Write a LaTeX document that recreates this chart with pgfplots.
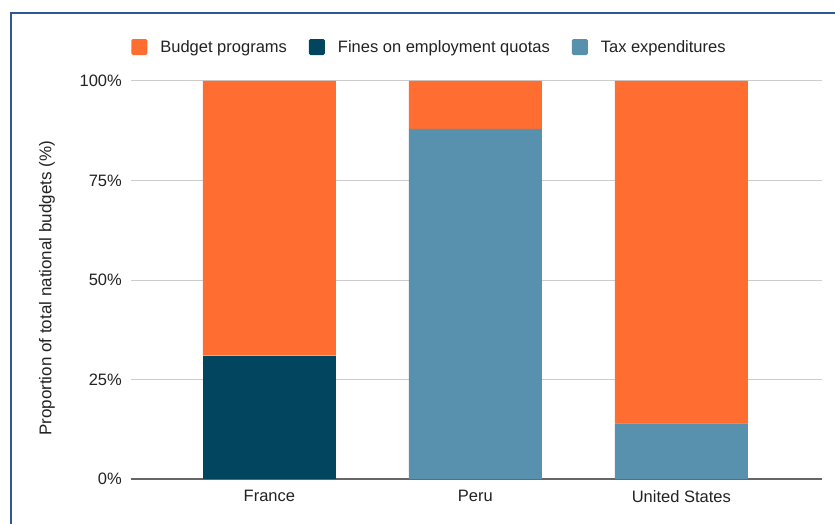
\documentclass[border=0pt]{standalone}
\usepackage{pgfplots}
\pgfplotsset{compat=1.18}
\usepackage{fontspec}
\setmainfont{Liberation Sans}
\definecolor{cOrange}{RGB}{255,109,49}
\definecolor{cDark}{RGB}{2,69,95}
\definecolor{cBlue}{RGB}{88,145,173}
\definecolor{cFrame}{RGB}{46,88,145}
\definecolor{cGrid}{RGB}{204,204,204}
\definecolor{cAxis}{RGB}{102,102,102}
\definecolor{cText}{RGB}{34,34,34}
\newcommand{\chf}{\fontsize{16.5}{19}\selectfont}
\begin{document}
\begin{tikzpicture}
\begin{axis}[
  name=ax,
  at={(0,0)}, anchor=south west,
  scale only axis,
  width=691pt, height=398pt,
  ybar stacked,
  bar width=133pt,
  xmin=-0.672, xmax=2.683,
  ymin=0, ymax=100,
  xtick={0,1,2},
  xticklabels={France,Peru,United States},
  ytick={0,25,50,75,100},
  yticklabel={\pgfmathprintnumber{\tick}\%},
  /pgf/number format/assume math mode=true,
  major tick length=0pt,
  ymajorgrids,
  grid style={color=cGrid, line width=1pt},
  axis x line*=bottom,
  axis y line*=left,
  x axis line style={color=cAxis, line width=1.5pt, -},
  y axis line style={draw=none},
  tick label style={font=\chf, text=cText},
  yticklabel style={inner sep=0pt, xshift=-9pt},
  xticklabel style={inner sep=0pt, yshift=-11pt},
  every axis y label/.style={at={(rel axis cs:0,0.479)}, xshift=-84pt, rotate=90, anchor=center, font=\fontsize{17}{20}\selectfont, text=cText},
  ylabel={Proportion of total national budgets (\%)},
  legend image code/.code={\fill[#1, rounded corners=1.5pt] (0pt,-8pt) rectangle (16pt,8pt);},
  legend columns=3,
  legend style={at={(rel axis cs:0.4305,1.0854)}, anchor=center, draw=none, fill=none,
    font=\chf, text=cText, inner sep=0pt,
    nodes={inner sep=0pt},
    /tikz/every odd column/.append style={column sep=13pt},
    /tikz/every even column/.append style={column sep=22pt}},
]
\addlegendimage{fill=cOrange, draw=none}
\addlegendentry{Budget programs}
\addlegendimage{fill=cDark, draw=none}
\addlegendentry{Fines on employment quotas}
\addlegendimage{fill=cBlue, draw=none}
\addlegendentry{Tax expenditures}
\addplot[fill=cDark, draw=none, forget plot] coordinates {(0,31) (1,0) (2,0)};
\addplot[fill=cBlue, draw=none, forget plot] coordinates {(0,0) (1,88) (2,14)};
\addplot[fill=cOrange, draw=none, forget plot] coordinates {(0,69) (1,12) (2,86)};
\end{axis}
\begin{scope}[shift={(ax.south west)}, x=1pt, y=1pt]
\draw[line width=2pt, color=cFrame] (720,466) -- (-120,466) -- (-120,-60);
\pgfresetboundingbox
\path[use as bounding box] (-131,-44) rectangle (704,479);
\end{scope}
\end{tikzpicture}
\end{document}
